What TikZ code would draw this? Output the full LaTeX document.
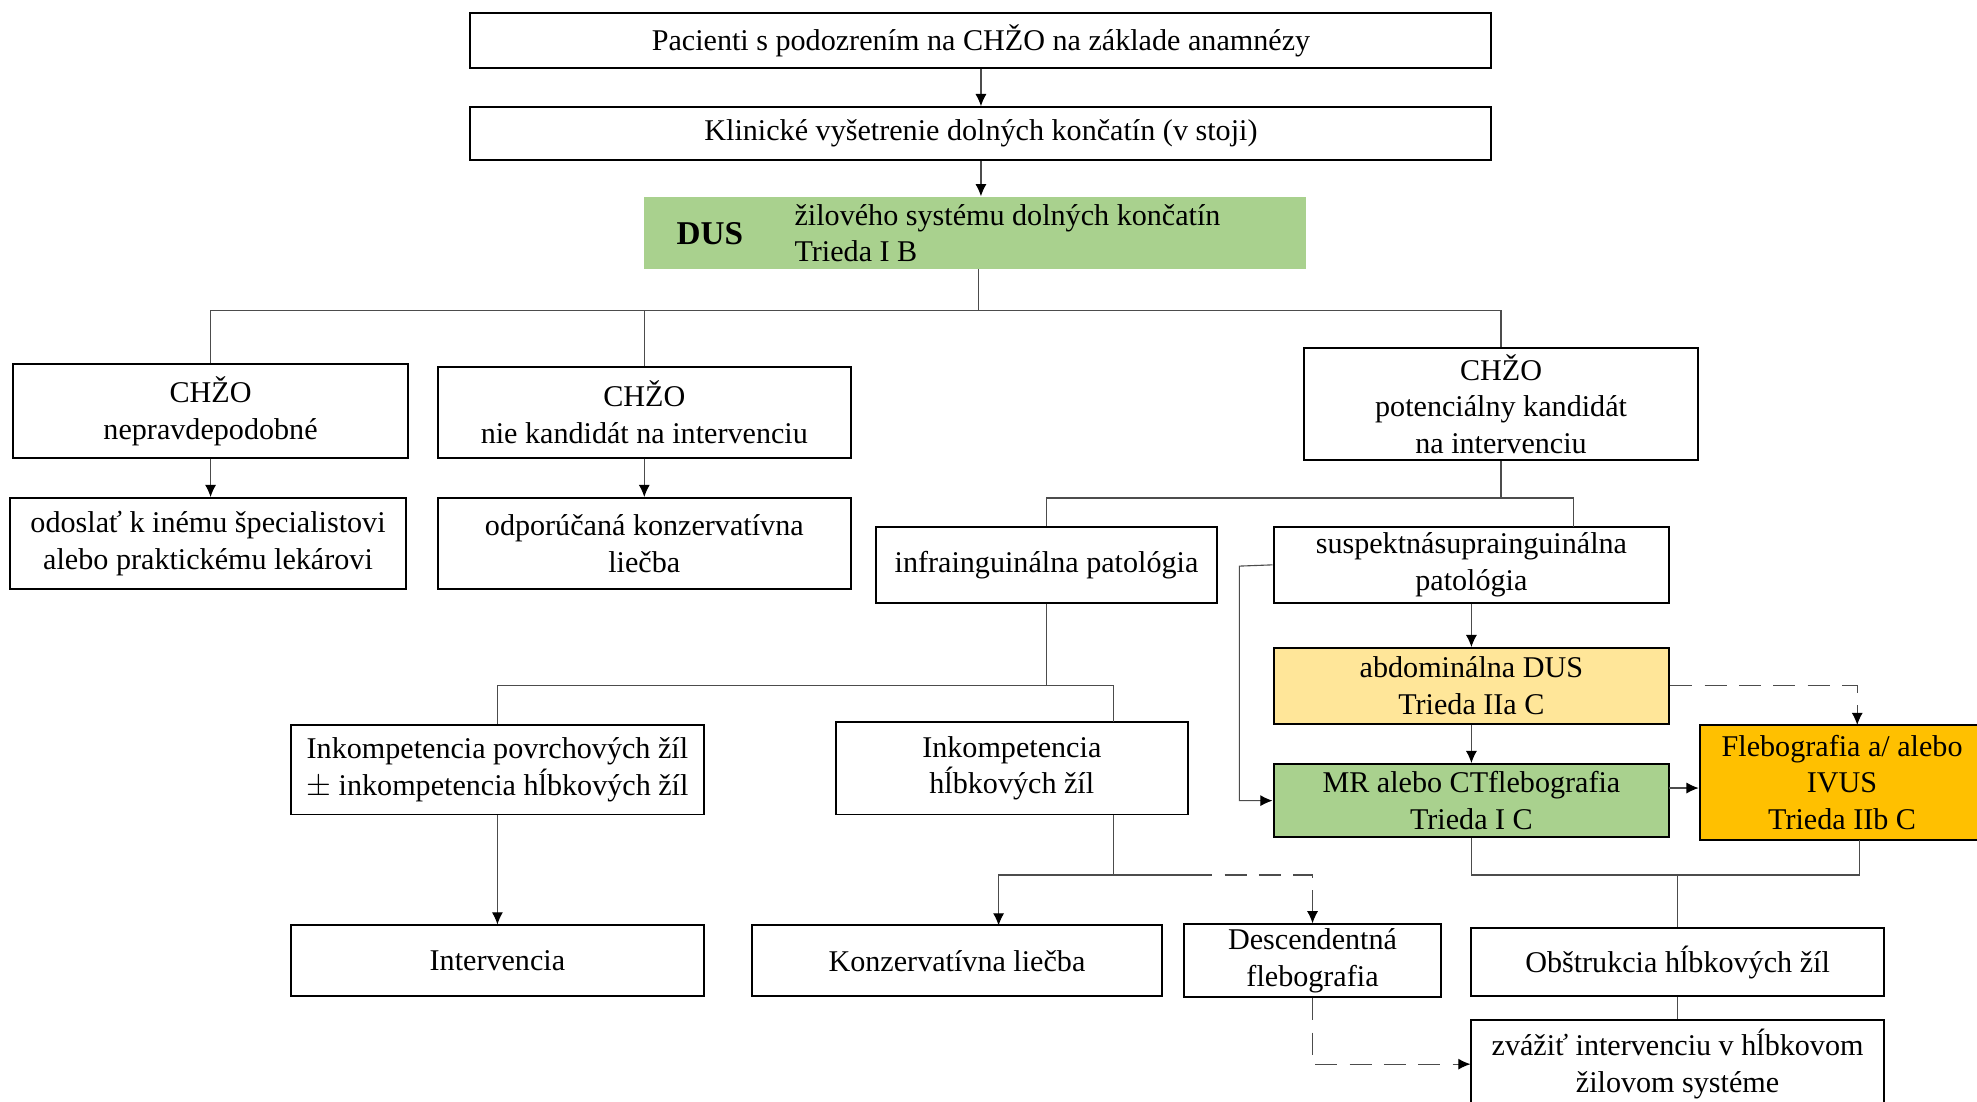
\documentclass[tikz,border=0pt]{standalone}
\usepackage{fontspec}
\setmainfont{Liberation Serif}
\usetikzlibrary{arrows.meta}
\usetikzlibrary{calc}
\definecolor{dusgreen}{HTML}{A9D18E}
\definecolor{paleyellow}{HTML}{FFE699}
\definecolor{ivusorange}{HTML}{FFC000}
\tikzset{box/.style={draw=black,line width=0.9pt,rectangle,align=center,inner sep=2pt},
  dusbox/.style={fill=dusgreen,rectangle},
  con/.style={draw=black!70,line width=0.5pt},
  tip/.style={-{Latex[length=5.5pt,width=5pt,black]}},
  arr/.style={con,tip},
  dashcon/.style={con,dash pattern=on 10pt off 5.5pt}}

\begin{document}
\begin{tikzpicture}[x=0.02cm,y=-0.02cm,font=\fontsize{13.6}{16.5}\selectfont]
\useasboundingbox (0,0) rectangle (1568,874);
% top
\node[box,minimum width=16.2cm,minimum height=0.88cm] (pac) at (778,32) {Pacienti s podozrením na CHŽO na základe anamnézy};
\node[box,minimum width=16.2cm,minimum height=0.84cm] (kli) at (778,106) {Klinické vyšetrenie dolných končatín (v stoji)};
\node[dusbox,minimum width=10.5cm,minimum height=1.14cm] (dus) at (773.5,184.5) {};
\node[font=\fontsize{15}{18}\selectfont\bfseries] (dusa) at (563,185) {DUS};
\node[anchor=west,align=left] (dusb) at (624,185) {žilového systému dolných končatín\\Trieda I B};
% CHZO
\node[box,minimum width=6.28cm,minimum height=1.48cm] (a1) at (167,326) {CHŽO\\nepravdepodobné};
\node[box,minimum width=6.56cm,minimum height=1.44cm] (b1) at (511,327) {CHŽO\\nie kandidát na intervenciu};
\node[box,minimum width=6.26cm,minimum height=1.78cm] (c1) at (1190.5,320.5) {CHŽO\\potenciálny kandidát\\na intervenciu};
\node[box,minimum width=6.28cm,minimum height=1.44cm] (a2) at (165,431) {odoslať k inému špecialistovi\\alebo praktickému lekárovi};
\node[box,minimum width=6.56cm,minimum height=1.44cm] (b2) at (511,431) {odporúčaná konzervatívna\\liečba};
% patologia
\node[box,minimum width=5.4cm,minimum height=1.2cm] (d1) at (830,448) {infrainguinálna patológia};
\node[box,minimum width=6.28cm,minimum height=1.2cm] (e1) at (1167,448) {suspektnásuprainguinálna\\patológia};
\node[box,minimum width=6.54cm,minimum height=1.42cm] (f1) at (394.5,610.5) {Inkompetencia povrchových žíl\\$\pm$ inkompetencia hĺbkových žíl};
\node[box,minimum width=5.58cm,minimum height=1.46cm] (g1) at (802.5,609.5) {Inkompetencia\\hĺbkových žíl};
\node[box,minimum width=6.54cm,minimum height=1.12cm] (h1) at (394.5,762) {Intervencia};
\node[box,minimum width=6.52cm,minimum height=1.12cm] (i1) at (759,762) {Konzervatívna liečba};
\node[box,minimum width=4.08cm,minimum height=1.12cm] (j1) at (1041,762) {Descendentná\\flebografia};
% zobrazenie
\node[box,fill=paleyellow,minimum width=6.28cm,minimum height=1.2cm] (k1) at (1167,544) {abdominálna DUS\\Trieda IIa C};
\node[box,fill=dusgreen,minimum width=6.28cm,minimum height=1.16cm] (l1) at (1167,635) {MR alebo CTflebografia\\Trieda I C};
\node[box,fill=ivusorange,minimum width=4.52cm,minimum height=1.82cm] (m1) at (1461,620.5) {Flebografia a/ alebo\\IVUS\\Trieda IIb C};
\node[box,minimum width=6.54cm,minimum height=1.08cm] (n1) at (1330.5,763) {Obštrukcia hĺbkových žíl};
\node[box,minimum width=6.54cm,minimum height=1.4cm] (o1) at (1330.5,844) {zvážiť intervenciu v hĺbkovom\\žilovom systéme};
% spojnice
\draw[arr] (pac) -- (kli);
\draw[arr] (kli.south) -- (kli.south |- dus.north);
\coordinate (s1) at (776,246);
\draw[con] (dus.south -| s1) -- (s1) -| (a1.north);
\draw[con] (s1) -| (b1.north);
\draw[con] (s1) -| (c1.north);
\draw[arr] (a1.south) -- (a1.south |- a2.north);
\draw[arr] (b1) -- (b2);
\coordinate (s2) at (1190.5,395);
\coordinate (e1t) at (1248,418);
\draw[con] (c1.south) -- (s2) -| (d1.north);
\draw[con] (s2) -| (e1t);
\coordinate (s3) at (830,544);
\coordinate (g1t) at (883,573);
\draw[con] (d1.south) -- (s3) -| (f1.north);
\draw[con] (s3) -| (g1t);
\draw[arr] (f1) -- (h1);
\coordinate (s4) at (883,694);
\coordinate (s5) at (944,694);
\coordinate (i1t) at (792,734);
\draw[con] (g1.south -| s4) -- (s4) -- (s5);
\draw[arr] (s4) -| (i1t);
\draw[dashcon,tip] (s5) -| (j1.north);
\draw[arr] (e1) -- (k1);
\draw[arr] (k1) -- (l1);
\coordinate (s6) at (983,449);
\draw[arr] (e1.west) -- (s6) |- (l1.west);
\coordinate (m1t) at (1473,575);
\draw[dashcon,tip] (k1.east) -| (m1t);
\coordinate (s7) at (1324,625);
\draw[arr] (s7) -- (s7 -| m1.west);
\coordinate (s8) at (1330.5,694);
\coordinate (m1b) at (1475,666);
\draw[con] (l1.south) |- (s8) -| (m1b);
\draw[con] (s8) -- (n1.north);
\draw[con] (n1) -- (o1);
\draw[dashcon,tip] (j1.south) |- (o1.west);
\end{tikzpicture}
\end{document}
